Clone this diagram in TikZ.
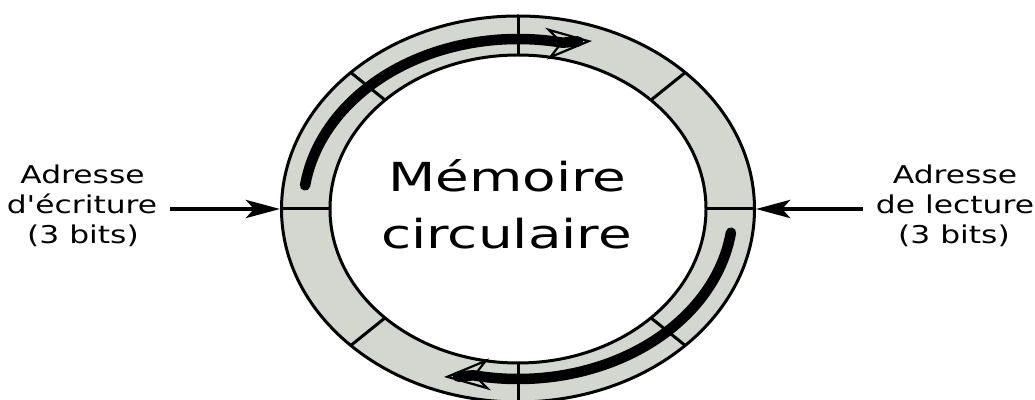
\documentclass[tikz,border=0pt]{standalone}
\usepackage{fontspec}
\setmainfont{DejaVu Sans}[Ligatures=TeXOff]
\usetikzlibrary{arrows.meta,shapes.geometric,calc}
\definecolor{ringgray}{HTML}{D3D7CF}
\begin{document}
\begin{tikzpicture}[x=1pt,y=1pt,
  ringline/.style={line width=3pt},
  flow/.style={line width=10.5pt, line cap=round},
  flowhead/.style={line width=2.2pt, -{Stealth[open, length=46pt, width=32pt, inset=14pt]}},
  addr/.style={line width=4.5pt, -{Stealth[length=34pt, width=18pt, inset=8pt]}},
  lbl/.style={font=\fontsize{24.5}{30}\selectfont, xscale=1.28, anchor=base, inner sep=0pt},
  big/.style={font=\fontsize{40}{50}\selectfont, xscale=1.37, anchor=base, inner sep=0pt}]
\useasboundingbox (0,0) rectangle (1035,399);
\coordinate (c) at (518,190);
\node[ellipse, draw, ringline, fill=ringgray, minimum width=473pt, minimum height=386pt, inner sep=0pt] (outer) at (c) {};
\node[ellipse, draw, ringline, fill=white, minimum width=376pt, minimum height=308pt, inner sep=0pt] (inner) at (c) {};
\foreach \a in {0,45,...,315}
  \draw[ringline] ($(c)+(\a:188 and 154)$) -- ($(c)+(\a:236.5 and 193)$);
% circulating arrows
\coordinate (wtip) at (592,358);
\coordinate (wend) at (578,357.6);
\coordinate (rtip) at (444,22);
\coordinate (rend) at (458,22.4);
\draw[flow] ($(c)+(172:215 and 170)$) arc[start angle=172, end angle=78, x radius=215, y radius=170] -- (wend);
\draw[flowhead] ($(c)+(172:215 and 170)$) arc[start angle=172, end angle=78, x radius=215, y radius=170] -- (wtip);
\draw[flow] ($(c)+(-8:215 and 170)$) arc[start angle=-8, end angle=-102, x radius=215, y radius=170] -- (rend);
\draw[flowhead] ($(c)+(-8:215 and 170)$) arc[start angle=-8, end angle=-102, x radius=215, y radius=170] -- (rtip);
% centre text
\node[big] (m1) at (507.5,207.3) {Mémoire};
\node[big] (m2) at (506.5,150.7) {circulaire};
% labels
\node[lbl] (wa) at (82.5,215) {Adresse};
\node[lbl] (wb) at (82,185) {d'écriture};
\node[lbl] (wc) at (83,155) {(3 bits)};
\node[lbl] (ra) at (955,215) {Adresse};
\node[lbl] (rb) at (955,185) {de lecture};
\node[lbl] (rc) at (954,155) {(3 bits)};
\draw[addr] ([xshift=13pt]wb.east |- outer.west) -- (outer.west);
\draw[addr] ([xshift=-13pt]rb.west |- outer.east) -- (outer.east);
\end{tikzpicture}
\end{document}
